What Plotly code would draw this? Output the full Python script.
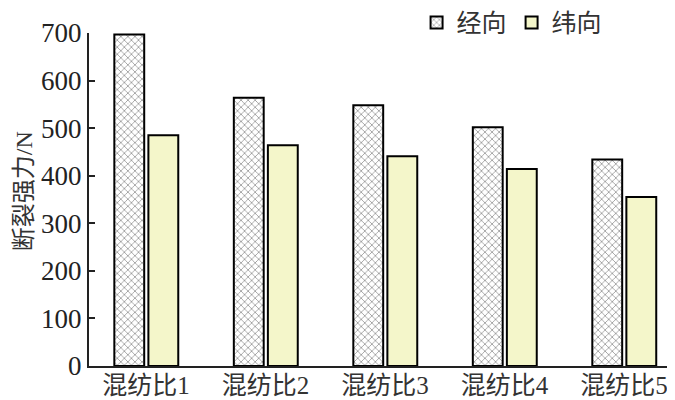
import plotly.graph_objects as go

categories = ["混纺比1", "混纺比2", "混纺比3", "混纺比4", "混纺比5"]
warp = [697, 564, 548, 502, 434]
weft = [485, 464, 441, 414, 355]
series_names = ["经向", "纬向"]
y_ticks = [0, 100, 200, 300, 400, 500, 600, 700]
y_title = "断裂强力/N"

font_family = "Liberation Serif, Noto Sans CJK SC, serif"

fig = go.Figure()
fig.add_trace(go.Bar(
    x=categories, y=warp, name=series_names[0],
    width=0.25, offset=-0.265,
    marker=dict(color="white", line=dict(color="black", width=2),
                pattern=dict(shape="x", fgcolor="#333333", bgcolor="white", size=5, solidity=0.3)),
))
fig.add_trace(go.Bar(
    x=categories, y=weft, name=series_names[1],
    width=0.25, offset=0.02,
    marker=dict(color="#F4F6CA", line=dict(color="black", width=2)),
))

# page body has an 8px default margin: the figure is sized and placed to compensate
fig.update_layout(
    width=667, height=392,
    margin=dict(l=81, r=0, t=25, b=34, autoexpand=False),
    paper_bgcolor="white", plot_bgcolor="white",
    font=dict(family=font_family, size=25, color="#222222"),
    barmode="overlay",
    showlegend=True,
    legend=dict(orientation="h", x=0.559, xanchor="left", y=1.1, yanchor="top",
                font=dict(size=25, color="#333333"), bgcolor="rgba(0,0,0,0)",
                itemwidth=30),
    xaxis=dict(type="category", range=[-0.477, 4.427], showline=True, linecolor="#222222",
               linewidth=2, ticks="", showgrid=False, ticklabelstandoff=-4,
               tickfont=dict(size=25, color="#333333")),
    yaxis=dict(range=[0, 700], tickvals=y_ticks, showline=True, linecolor="#222222", linewidth=2,
               ticks="inside", ticklen=6, tickwidth=2, tickcolor="#222222", showgrid=False,
               zeroline=False, tickfont=dict(size=27, color="#222222")),
    annotations=[dict(text=y_title, xref="paper", yref="paper", x=-0.1365, y=0.525,
                      xanchor="left", yanchor="middle", textangle=-90, showarrow=False,
                      font=dict(size=24, color="#333333"))],
)

fig.write_html("out.html")
